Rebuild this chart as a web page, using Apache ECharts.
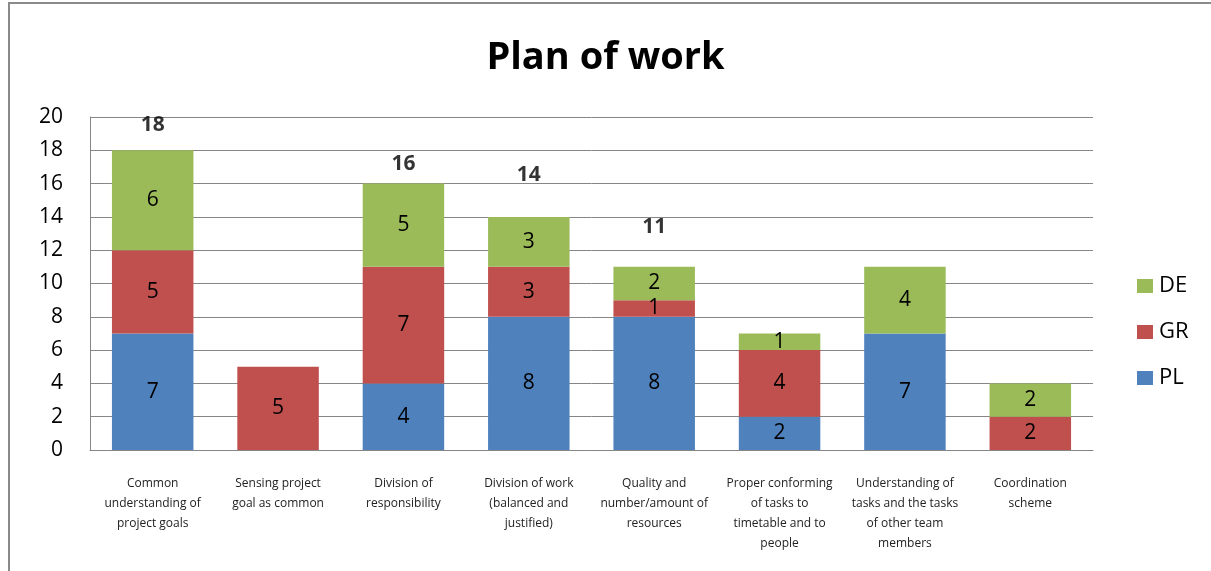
<!DOCTYPE html>
<html>
<head>
<meta charset="utf-8">
<script src="https://cdn.jsdelivr.net/npm/echarts@6/dist/echarts.min.js"></script>
<style>
  html, body { margin: 0; padding: 0; background: #ffffff; }
  #chart { width: 1211px; height: 571px; }
</style>
</head>
<body>
<div id="chart"></div>
<script>
// Categories of the work-plan survey
const categories = [
  'Common\nunderstanding of\nproject goals',
  'Sensing project\ngoal as common',
  'Division of\nresponsibility',
  'Division of work\n(balanced and\njustified)',
  'Quality and\nnumber/amount of\nresources',
  'Proper conforming\nof tasks to\ntimetable and to\npeople',
  'Understanding of\ntasks and the tasks\nof other team\nmembers',
  'Coordination\nscheme'
];

// Answers per country
const PL = [7, 0, 4, 8, 8, 2, 7, 0];
const GR = [5, 5, 7, 3, 1, 4, 0, 2];
const DE = [6, 0, 5, 3, 2, 1, 4, 2];

// Totals printed above some of the stacks (null = not shown)
const totals = [18, null, 16, 14, 11, null, null, null];

// Y axis ticks
const yMin = 0, yMax = 20, yStep = 2;

const colors = { PL: '#4F81BD', GR: '#C0504D', DE: '#9BBB59' };
const FONT = 'Open Sans';

// vertical pixel lift of each total label above its stack
const totalLift = [-25, 0, -20, -42, -40, 0, 0, 0];

function stackSeries(name, values) {
  return {
    name: name,
    type: 'bar',
    stack: 'total',
    barWidth: '65%',
    itemStyle: { color: colors[name] },
    label: {
      show: true,
      position: 'inside',
      color: '#000',
      fontFamily: FONT,
      fontSize: 21,
      formatter: p => (p.value ? String(p.value) : '')
    },
    data: values.map(v => (v === 0 ? null : v))
  };
}

const chart = echarts.init(document.getElementById('chart'));
chart.setOption({
  animation: false,
  backgroundColor: '#ffffff',
  title: {
    text: 'Plan of work',
    left: 'center',
    top: 34,
    textStyle: { fontFamily: FONT, fontSize: 38, fontWeight: 'bold', color: '#000' }
  },
  graphic: [{
    type: 'rect',
    shape: { x: 9, y: 3, width: 1300, height: 700 },
    style: { fill: 'none', stroke: '#8a8a8a', lineWidth: 2 },
    silent: true,
    z: 100
  }],
  legend: {
    orient: 'vertical',
    left: 1132,
    top: 270,
    itemWidth: 16,
    itemHeight: 14,
    itemGap: 24,
    icon: 'rect',
    data: ['DE', 'GR', 'PL'],
    textStyle: { fontFamily: FONT, fontSize: 22, color: '#000', padding: [0, 0, 0, 1] }
  },
  grid: { left: 90, right: 118, top: 117, bottom: 121, containLabel: false },
  xAxis: {
    type: 'category',
    data: categories,
    axisLine: { show: true, lineStyle: { color: '#868686', width: 1 } },
    axisTick: { show: false },
    axisLabel: {
      interval: 0,
      margin: 24,
      fontFamily: FONT,
      fontSize: 12,
      lineHeight: 20,
      color: '#222'
    }
  },
  yAxis: {
    type: 'value',
    min: yMin,
    max: yMax,
    interval: yStep,
    axisLine: { show: true, lineStyle: { color: '#868686', width: 1 } },
    axisTick: { show: false },
    axisLabel: { fontFamily: FONT, fontSize: 21, color: '#000', margin: 27 },
    splitLine: { show: true, lineStyle: { color: '#868686', width: 1 } }
  },
  series: [
    stackSeries('PL', PL),
    stackSeries('GR', GR),
    stackSeries('DE', DE),
    {
      name: 'Total',
      type: 'scatter',
      symbolSize: 0,
      silent: true,
      data: totals.map((t, i) => (t === null ? null : {
        value: [i, t],
        label: { offset: [0, totalLift[i]] }
      })),
      label: {
        show: true,
        position: 'inside',
        fontFamily: FONT,
        fontSize: 21,
        fontWeight: 'bold',
        color: '#000',
        formatter: p => String(p.value[1])
      }
    }
  ]
});
</script>
</body>
</html>
